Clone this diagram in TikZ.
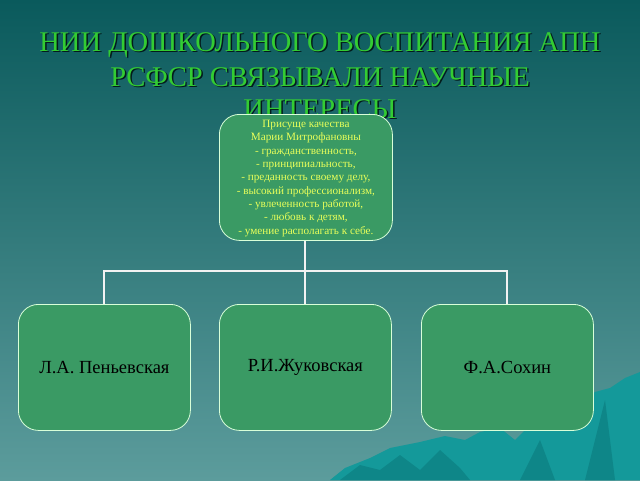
\documentclass[tikz,border=0pt]{standalone}
\usepackage{fontspec}
\setmainfont{Liberation Serif}
\begin{document}
\begin{tikzpicture}[x=1pt,y=-1pt,
  box/.style={draw=green!15!white, line width=0.8pt, fill=boxg, rounded corners=20pt, inner sep=0pt},
  link/.style={draw=white!90!gray, line width=2pt}]
\definecolor{boxg}{HTML}{3A9A64}
\definecolor{bgtop}{HTML}{0A5A5C}
\definecolor{bgbot}{HTML}{5C9C9C}
\definecolor{mnt}{HTML}{14999A}
\definecolor{mntd}{HTML}{0E8688}
\definecolor{titleg}{HTML}{33CC33}
\definecolor{txty}{HTML}{E8FF5A}
\useasboundingbox (0,0) rectangle (640,480);
\shade[top color=bgtop, bottom color=bgbot] (0,0) rectangle (640,480);
% mountains
\fill[mnt] (330,480) -- (345,468) -- (370,458) -- (390,448) -- (420,442) -- (445,436) -- (465,440) -- (480,432) -- (500,428) -- (515,440) -- (525,430) -- (545,428) -- (560,410) -- (580,405) -- (595,392) -- (610,388) -- (625,378) -- (640,372) -- (640,480) -- cycle;
\fill[mntd] (340,480) -- (360,465) -- (380,470) -- (400,455) -- (420,470) -- (440,450) -- (460,468) -- (470,480) -- cycle;
\fill[mntd] (520,480) -- (540,440) -- (555,480) -- cycle;
\fill[mntd] (585,480) -- (605,400) -- (615,480) -- cycle;
% title
\foreach \t/\yy in {{НИИ ДОШКОЛЬНОГО ВОСПИТАНИЯ АПН}/45,{РСФСР СВЯЗЫВАЛИ НАУЧНЫЕ}/77,{ИНТЕРЕСЫ}/109}{
  \node[font=\fontsize{28.5}{28.5}\selectfont, text=black!70!bgtop] at (321.5,\yy+1.5) {\t};
  \node[font=\fontsize{28.5}{28.5}\selectfont, text=titleg] at (320,\yy) {\t};
}
\node[box, minimum width=173pt, minimum height=126pt, anchor=north west] (top) at (219,114) {};
\node[text=txty, font=\fontsize{11.2}{13.3}\selectfont, align=center] (toptext) at ([yshift=-1pt]top.center) {Присуще качества\\Марии Митрофановны\\- гражданственность,\\- принципиальность,\\- преданность своему делу,\\- высокий профессионализм,\\- увлеченность работой,\\- любовь к детям,\\- умение располагать к себе.};
\foreach \n/\xx/\t in {a/18/{Л.А. Пеньевская},b/219/{Р.И.Жуковская},c/421/{Ф.А.Сохин}}{
  \node[box, minimum width=172pt, minimum height=126pt, anchor=north west, font=\fontsize{18.5}{18.5}\selectfont] (\n) at (\xx,304) {\t};
}
\coordinate (j) at (305,271);
\draw[link] (top.south -| j) -- (j);
\draw[link] (a.north) |- (j) -| (c.north);
\draw[link] (j) -- (b.north -| j);
\end{tikzpicture}
\end{document}
